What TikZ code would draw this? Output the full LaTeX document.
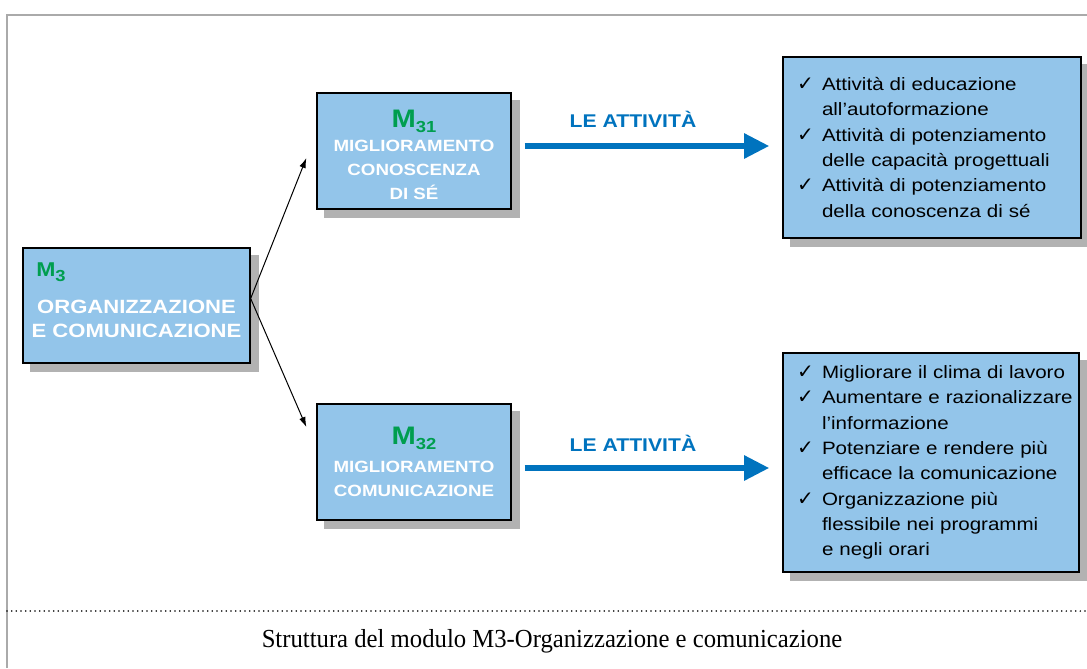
\documentclass[tikz,border=0pt]{standalone}
\usepackage{fontspec}
\usepackage{xcolor}
\usepackage{tikz}
\usetikzlibrary{positioning, arrows.meta, backgrounds}

\setmainfont{Liberation Serif}
\newfontfamily\hvfont[FakeStretch=1.15]{Liberation Sans}
\newfontfamily\ckfont{DejaVu Sans}
\newfontfamily\capfont[FakeStretch=0.95]{Liberation Serif}

\definecolor{boxblue}{RGB}{147,197,234}
\definecolor{mgreen}{RGB}{0,158,79}
\definecolor{attblue}{RGB}{0,115,190}
\definecolor{shadowgray}{RGB}{178,178,178}
\definecolor{framegray}{RGB}{170,170,170}

% module label: M with subscript
\newcommand{\mlab}[3]{{\color{mgreen}\fontsize{#1}{#1}\selectfont
M\raisebox{-4pt}{\fontsize{#2}{#2}\selectfont #3}}}
% check mark items
\newcommand{\chk}{\makebox[18.75pt][l]{\ckfont\fontsize{15}{15}\selectfont ✓}}
\newcommand{\cki}[1]{\chk\mbox{#1}}
\newcommand{\cnt}[1]{\hspace*{18.75pt}\mbox{#1}}

\tikzset{
  mbox/.style={draw, line width=1pt, fill=boxblue, text=white, align=center,
    font=\hvfont\bfseries\fontsize{12.2}{18}\selectfont,
    minimum width=145.5pt, minimum height=87pt, inner sep=0pt},
  actbox/.style={draw, line width=1pt, fill=boxblue, align=left,
    font=\hvfont\fontsize{13.4}{19}\selectfont, inner xsep=10.5pt},
  attlabel/.style={text=attblue, anchor=base,
    font=\hvfont\bfseries\fontsize{13.8}{16}\selectfont},
  actarrow/.style={attblue, line width=4.5pt,
    -{Triangle[length=19pt, width=18pt]}},
  thinarrow/.style={line width=0.75pt, -{Latex[length=7.5pt, width=5pt]}},
  boxshadow/.style={fill=shadowgray}
}

\begin{document}
\begin{tikzpicture}[x=0.75pt,y=0.75pt,yscale=-1,xscale=1]
\useasboundingbox (0,0) rectangle (1087,668);

% frame
\draw[framegray, line width=1.5pt] (7,668) -- (7,15) -- (1087,15);
\draw[line width=1.3pt, line cap=round, dash pattern=on 0pt off 3.5pt]
  (7,611) -- (1087,611);

% modules
\node[mbox, minimum width=170.25pt, minimum height=86.25pt] (m3)
  at (136.5,305.5) {};
\node[mbox, draw=none, fill=none, font=\hvfont\bfseries\fontsize{14.4}{18}\selectfont]
  (m3text) at (136.5,319) {ORGANIZZAZIONE\\E COMUNICAZIONE};
\node[anchor=base west, inner sep=0pt, font=\hvfont\bfseries] (m3lab)
  at (36,276) {\mlab{15}{12}{3}};

\node[mbox] (m31) at (414,151)
  {\rule{0pt}{19pt}\mlab{19}{12}{31}\\ MIGLIORAMENTO\\ CONOSCENZA\\ DI SÉ};
\node[mbox] (m32) at (414,462)
  {\mlab{19}{12}{32}\\[3pt] MIGLIORAMENTO\\ COMUNICAZIONE};

% activities
\node[actbox, text width=202.5pt, minimum height=135.75pt] (act1) at (932,147.5)
  {\cki{Attività di educazione}\\
   \cnt{all’autoformazione}\\
   \cki{Attività di potenziamento}\\
   \cnt{delle capacità progettuali}\\
   \cki{Attività di potenziamento}\\
   \cnt{della conoscenza di sé}};
\node[actbox, text width=201pt, minimum height=164.25pt] (act2) at (931,462.5)
  {\cki{Migliorare il clima di lavoro}\\
   \cki{Aumentare e razionalizzare}\\
   \cnt{l’informazione}\\
   \cki{Potenziare e rendere più}\\
   \cnt{efficace la comunicazione}\\
   \cki{Organizzazione più}\\
   \cnt{flessibile nei programmi}\\
   \cnt{e negli orari}};

% shadows
\begin{scope}[on background layer]
\foreach \b in {m3, m31, m32, act1, act2}
  \fill[boxshadow] ([shift={(8,8)}]\b.north west) rectangle ([shift={(8,8)}]\b.south east);
\end{scope}

% connectors
\draw[thinarrow] ([shift={(0,-7)}]m3.east) -- ([shift={(-10,7)}]m31.west);
\draw[thinarrow] ([shift={(0,-7)}]m3.east) -- ([shift={(-10,-35)}]m32.west);

\draw[actarrow] ([shift={(13,-5)}]m31.east) -- ([shift={(-13,-1.5)}]act1.west);
\draw[actarrow] ([shift={(13,6)}]m32.east) -- ([shift={(-13,5.5)}]act2.west);
\node[attlabel] (att1) at (633,127.5) {LE ATTIVITÀ};
\node[attlabel] (att2) at (633,451.5) {LE ATTIVITÀ};

% caption
\node[font=\capfont\fontsize{19.5}{20}\selectfont] (caption) at (552,641)
  {Struttura del modulo M3-Organizzazione e comunicazione};

\end{tikzpicture}
\end{document}
